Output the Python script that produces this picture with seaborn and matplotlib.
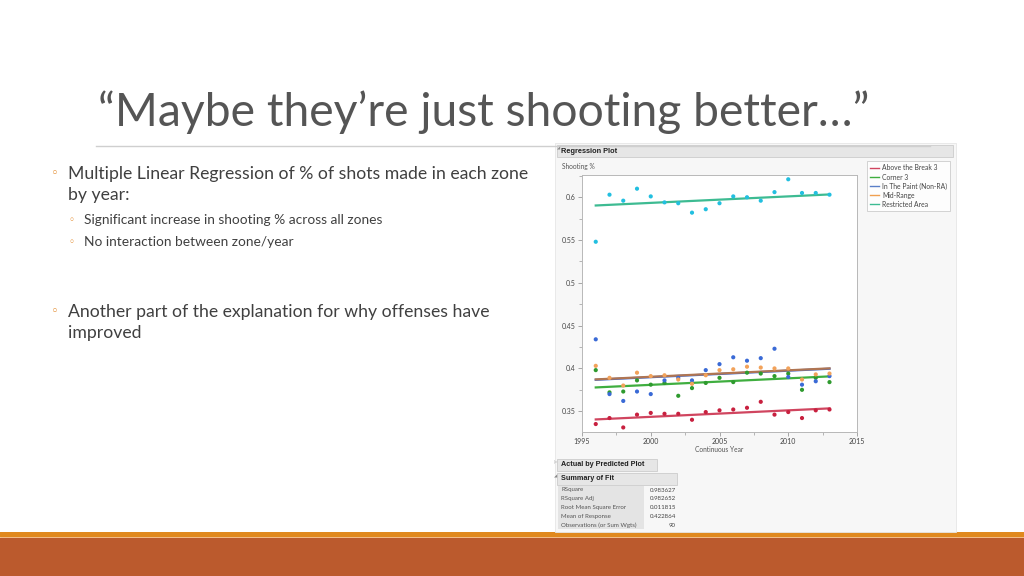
import numpy as np
import pandas as pd
import matplotlib
matplotlib.use("Agg")
import matplotlib.pyplot as plt
from matplotlib.patches import Rectangle
from matplotlib.lines import Line2D
import seaborn as sns

# datos (JMP, % de tiros convertidos por zona)
years = list(range(1996, 2014))
zones = ["Above the Break 3", "Corner 3", "In The Paint (Non-RA)", "Mid-Range", "Restricted Area"]

above_break_3 = [0.335, 0.342, 0.331, 0.346, 0.348, 0.347, 0.347, 0.340, 0.349, 0.351,
                 0.352, 0.354, 0.361, 0.346, 0.349, 0.342, 0.351, 0.352]
corner_3 = [0.398, 0.372, 0.373, 0.386, 0.381, 0.383, 0.368, 0.377, 0.383, 0.389,
            0.384, 0.395, 0.394, 0.391, 0.394, 0.375, 0.389, 0.384]
in_the_paint = [0.434, 0.370, 0.362, 0.373, 0.370, 0.386, 0.389, 0.386, 0.398, 0.405,
                0.413, 0.409, 0.412, 0.423, 0.390, 0.381, 0.385, 0.391]
mid_range = [0.403, 0.389, 0.380, 0.395, 0.391, 0.392, 0.387, 0.382, 0.392, 0.398,
             0.399, 0.402, 0.401, 0.400, 0.400, 0.387, 0.393, 0.394]
restricted_area = [0.548, 0.603, 0.596, 0.610, 0.601, 0.594, 0.593, 0.582, 0.586, 0.593,
                   0.601, 0.600, 0.596, 0.606, 0.621, 0.605, 0.605, 0.603]

fit_labels = ["RSquare", "RSquare Adj", "Root Mean Square Error", "Mean of Response",
              "Observations (or Sum Wgts)"]
fit_values = ["0.983627", "0.982652", "0.011815", "0.422864", "90"]

title = "\u201cMaybe they\u2019re just shooting better\u2026\u201d"
# (nivel, y de la primera linea, lineas)
bullets = [
    (1, 174, ["Multiple Linear Regression of % of shots made in each zone", "by year:"]),
    (2, 220, ["Significant increase in shooting % across all zones"]),
    (2, 242, ["No interaction between zone/year"]),
    (1, 312, ["Another part of the explanation for why offenses have", "improved"]),
]

point_colors = {"Above the Break 3": "#c8203f", "Corner 3": "#2e9a2e",
                "In The Paint (Non-RA)": "#3a6ad6", "Mid-Range": "#f2a25a",
                "Restricted Area": "#22bfe0"}
line_colors = {"Above the Break 3": "#d0455f", "Corner 3": "#3fae3f",
               "In The Paint (Non-RA)": "#3a6ad6", "Mid-Range": "#b07552",
               "Restricted Area": "#3dbb92"}
legend_colors = {"Above the Break 3": "#d0455f", "Corner 3": "#3fae3f",
                 "In The Paint (Non-RA)": "#5a7fc8", "Mid-Range": "#f0a050",
                 "Restricted Area": "#3dbb92"}

df = pd.DataFrame({
    "year": years * 5,
    "zone": np.repeat(zones, len(years)),
    "pct": above_break_3 + corner_3 + in_the_paint + mid_range + restricted_area,
})

# modelo aditivo: zona + año (sin interaccion) -> pendiente comun
X = np.column_stack([pd.get_dummies(df["zone"])[zones].values.astype(float), df["year"].values])
coef, *_ = np.linalg.lstsq(X, df["pct"].values, rcond=None)
df["fit"] = X @ coef

W, H = 1024, 576
fig = plt.figure(figsize=(10.24, 5.76), dpi=100)
fig.patch.set_facecolor("white")

bg = fig.add_axes([0, 0, 1, 1])
bg.set_xlim(0, W)
bg.set_ylim(H, 0)
bg.axis("off")

fam = ["Lato", "DejaVu Sans"]
text_col = "#404040"
accent = "#e2892a"

# titulo y linea
bg.text(98, 112, title, fontsize=33.3, color="#555555", family=fam, fontweight="normal",
        va="center", ha="left")
bg.plot([96, 930], [145.5, 145.5], color="#cfcfcf", lw=1)

# viñetas
for level, y0, lines in bullets:
    if level == 1:
        xm, xt, fs = 55, 68, 12.7
    else:
        xm, xt, fs = 71, 84, 9.9
    bg.text(xm, y0, "\u25e6", fontsize=fs * 0.75, color=accent, family=["DejaVu Sans"],
            va="center", ha="center")
    for i, line in enumerate(lines):
        bg.text(xt, y0 + i * 21, line, fontsize=fs, color=text_col, family=fam,
                va="center", ha="left")

# barra inferior
bg.add_patch(Rectangle((0, 532), W, 5, color="#e0891e", lw=0))
bg.add_patch(Rectangle((0, 537.5), W, 40, color="#bb5a2d", lw=0))
bg.plot([0, W], [537, 537], color="#f0b070", lw=0.6)

# panel JMP
bg.add_patch(Rectangle((555, 143), 401, 389, facecolor="#f7f7f7", edgecolor="#e6e6e6", lw=0.6))
bg.add_patch(Rectangle((557, 145), 396, 12, facecolor="#e6e6e6", edgecolor="#cccccc", lw=0.6))
bg.text(557, 149, "\u25e2", fontsize=3, color="#888888", family=["DejaVu Sans"], va="center")
bg.text(561, 151.5, "Regression Plot", fontsize=5.3, fontweight="bold", color="#202020",
        family=["Liberation Sans", "DejaVu Sans"], va="center")
bg.text(562, 167, "Shooting %", fontsize=4.8, color="#555555", family=fam, va="center")
bg.text(719, 450, "Continuous Year", fontsize=4.8, color="#555555", family=fam,
        va="center", ha="center")

bg.add_patch(Rectangle((557, 459), 100, 11.5, facecolor="#e6e6e6", edgecolor="#cccccc", lw=0.6))
bg.text(554, 463, "\u25b7", fontsize=3, color="#888888", family=["DejaVu Sans"], va="center")
bg.text(561, 465, "Actual by Predicted Plot", fontsize=5.2, fontweight="bold", color="#202020",
        family=["Liberation Sans", "DejaVu Sans"], va="center")
bg.add_patch(Rectangle((557, 473), 120, 11.5, facecolor="#e6e6e6", edgecolor="#cccccc", lw=0.6))
bg.text(554, 476, "\u25e2", fontsize=3, color="#888888", family=["DejaVu Sans"], va="center")
bg.text(561, 479, "Summary of Fit", fontsize=5.2, fontweight="bold", color="#202020",
        family=["Liberation Sans", "DejaVu Sans"], va="center")
bg.add_patch(Rectangle((558, 486), 86, 43, facecolor="#e4e4e4", lw=0))
for i, (lab, val) in enumerate(zip(fit_labels, fit_values)):
    yy = 490 + i * 8.8
    bg.text(561, yy, lab, fontsize=4.4, color="#555555", family=fam, va="center")
    bg.text(676, yy, val, fontsize=4.4, color="#444444", family=fam, va="center", ha="right")

# grafico de regresion
ax = fig.add_axes([582 / W, 1 - 432 / H, 275 / W, 257 / H])
ax.set_facecolor("white")
sns.scatterplot(data=df, x="year", y="pct", hue="zone", hue_order=zones,
                palette=point_colors, s=9, edgecolor="none", legend=False, ax=ax, zorder=3)
sns.lineplot(data=df, x="year", y="fit", hue="zone", hue_order=zones,
             palette=line_colors, lw=1.6, legend=False, ax=ax, zorder=2)
ax.set_xlim(1995, 2015)
ax.set_ylim(0.3257, 0.626)
ax.set_xticks([1995, 2000, 2005, 2010, 2015])
ax.set_xticks(np.arange(1997.5, 2015, 5), minor=True)
ax.set_yticks([0.35, 0.4, 0.45, 0.5, 0.55, 0.6])
ax.set_yticklabels(["0.35", "0.4", "0.45", "0.5", "0.55", "0.6"])
ax.set_yticks(np.arange(0.375, 0.626, 0.05), minor=True)
ax.set_xlabel("")
ax.set_ylabel("")
ax.tick_params(axis="both", which="major", labelsize=5, colors="#999999", length=3,
               width=0.6, labelcolor="#444444", pad=1.5)
ax.tick_params(axis="both", which="minor", colors="#999999", length=2, width=0.5)
for lab in ax.get_xticklabels() + ax.get_yticklabels():
    lab.set_family(fam)
for sp in ax.spines.values():
    sp.set_color("#b8b8b8")
    sp.set_linewidth(0.7)

handles = [Line2D([], [], color=legend_colors[z], lw=1) for z in zones]
leg = ax.legend(handles, zones, loc="upper left", bbox_to_anchor=(864 / W, 1 - 158 / H),
                bbox_transform=fig.transFigure, frameon=True, fancybox=False,
                handlelength=1.3, handletextpad=0.4, borderpad=0.45, labelspacing=0.3,
                prop={"family": fam, "size": 4.9})
leg.get_frame().set_edgecolor("#c0c0c0")
leg.get_frame().set_linewidth(0.6)
for t in leg.get_texts():
    t.set_color("#444444")

fig.savefig("out.png", dpi=100)
